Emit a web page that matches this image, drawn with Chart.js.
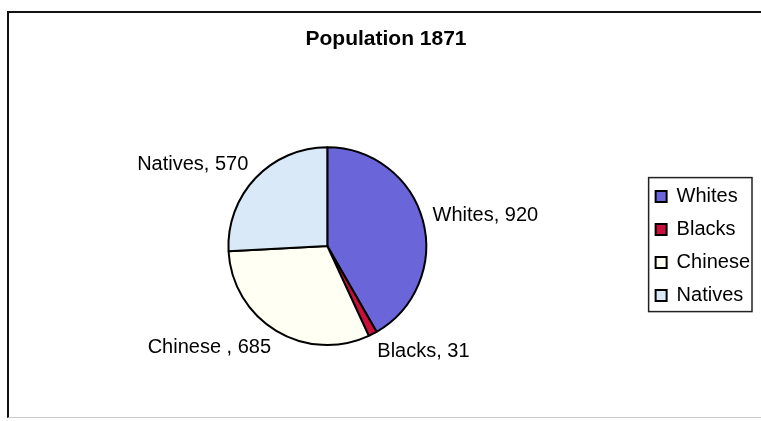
<!DOCTYPE html>
<html>
<head>
<meta charset="utf-8">
<script src="https://cdn.jsdelivr.net/npm/chart.js@4.4.1/dist/chart.umd.min.js"></script>
<style>
  html, body { margin: 0; padding: 0; background: #fff; }
  #wrap { position: relative; width: 761px; height: 421px; overflow: hidden; }
  #frame { position: absolute; left: 7px; top: 11px; width: 800px; height: 404px;
           border-left: 2px solid #111; border-top: 2px solid #111; border-bottom: 1px solid #ccc; }
  canvas { position: absolute; left: 0; top: 0; }
</style>
</head>
<body>
<div id="wrap">
  <div id="frame"></div>
  <canvas id="pie" width="761" height="421"></canvas>
</div>
<script>
// --- data ---
const categories = ["Whites", "Blacks", "Chinese", "Natives"];
const labelNames = ["Whites", "Blacks", "Chinese ", "Natives"]; // as printed beside the slices
const population = [920, 31, 685, 570];
const sliceColors = ["#6a65d8", "#c8103c", "#fffff4", "#d9e9f7"];

Chart.defaults.font.family = "'Liberation Sans', Arial, sans-serif";
Chart.defaults.color = "#000";

// labels outside each slice, "Name, value"
const outsideLabels = {
  id: "outsideLabels",
  afterDatasetsDraw(chart) {
    const ctx = chart.ctx;
    const meta = chart.getDatasetMeta(0);
    ctx.save();
    ctx.font = "20px 'Liberation Sans', Arial, sans-serif";
    ctx.fillStyle = "#000";
    ctx.textBaseline = "middle";
    meta.data.forEach((arc, i) => {
      const p = arc.getProps(["x", "y", "startAngle", "endAngle", "outerRadius"], true);
      const mid = (p.startAngle + p.endAngle) / 2;
      const dx = Math.cos(mid), dy = Math.sin(mid);
      const r = p.outerRadius + 10;
      const x = p.x + dx * r;
      const y = p.y + dy * r + dy * 10;
      ctx.textAlign = dx >= 0 ? "left" : "right";
      ctx.fillText(labelNames[i] + ", " + population[i], x, y);
    });
    ctx.restore();
  }
};

// box round the legend
const legendBox = {
  id: "legendBox",
  afterDraw(chart) {
    const boxes = chart.legend.legendHitBoxes;
    if (!boxes || !boxes.length) return;
    const left = Math.min(...boxes.map(b => b.left)) - 7;
    const top = Math.min(...boxes.map(b => b.top)) - 9;
    const right = Math.max(...boxes.map(b => b.left + b.width)) + 2;
    const bottom = Math.max(...boxes.map(b => b.top + b.height)) + 6;
    const ctx = chart.ctx;
    ctx.save();
    ctx.strokeStyle = "#222";
    ctx.lineWidth = 1.5;
    ctx.strokeRect(left, top, right - left, bottom - top);
    ctx.restore();
  }
};

new Chart(document.getElementById("pie"), {
  type: "pie",
  data: {
    labels: categories,
    datasets: [{
      data: population,
      backgroundColor: sliceColors,
      borderColor: "#000",
      borderWidth: 2
    }]
  },
  options: {
    responsive: false,
    animation: false,
    layout: { padding: { left: 12, right: 1, top: 0, bottom: 75 } },
    plugins: {
      title: {
        display: true,
        text: "Population 1871",
        color: "#000",
        font: { size: 21, weight: "bold" },
        padding: { top: 27, bottom: 94 }
      },
      legend: {
        position: "right",
        fullSize: false,
        labels: {
          color: "#000",
          font: { size: 20 },
          boxWidth: 11,
          boxHeight: 11,
          padding: 13
        }
      },
      tooltip: { enabled: false }
    }
  },
  plugins: [outsideLabels, legendBox]
});
</script>
</body>
</html>
